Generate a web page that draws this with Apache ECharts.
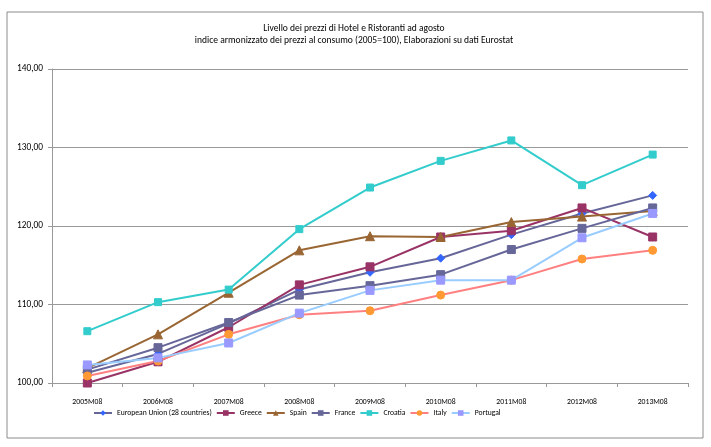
<!DOCTYPE html>
<html>
<head>
<meta charset="utf-8">
<script src="https://cdn.jsdelivr.net/npm/echarts@6/dist/echarts.min.js"></script>
<style>
html,body{margin:0;padding:0;background:#fff;}
#c{width:711px;height:447px;}
</style>
</head>
<body>
<div id="c"></div>
<script>
const categories = ['2005M08','2006M08','2007M08','2008M08','2009M08','2010M08','2011M08','2012M08','2013M08'];
const eu       = [101.3, 103.7, 107.6, 111.9, 114.1, 115.9, 118.9, 121.6, 123.9];
const greece   = [100.0, 102.7, 107.1, 112.5, 114.8, 118.6, 119.4, 122.3, 118.6];
const spain    = [101.9, 106.2, 111.5, 116.9, 118.7, 118.6, 120.5, 121.2, 121.9];
const france   = [101.7, 104.5, 107.7, 111.2, 112.4, 113.8, 117.0, 119.7, 122.3];
const croatia  = [106.6, 110.3, 111.9, 119.6, 124.9, 128.3, 130.9, 125.2, 129.1];
const italy    = [100.9, 102.8, 106.2, 108.7, 109.2, 111.2, 113.1, 115.8, 116.9];
const portugal = [102.3, 103.2, 105.1, 108.9, 111.8, 113.1, 113.1, 118.5, 121.6];
const yTicks = [100, 110, 120, 130, 140];
const titleLine1 = 'Livello dei prezzi di Hotel e Ristoranti ad agosto';
const titleLine2 = 'indice armonizzato dei prezzi al consumo (2005=100), Elaborazioni su dati Eurostat';

const FONT = "Carlito, Calibri, 'Liberation Sans', sans-serif";

// choose font sizes so text widths match the reference
const cv = document.createElement('canvas').getContext('2d');
function fitSize(str, targetW) {
  cv.font = '10px ' + FONT;
  return Math.max(6, Math.min(12, 10 * targetW / cv.measureText(str).width));
}
const titleSize = fitSize(titleLine2, 319);
const legendSize = fitSize('European Union (28 countries)', 95);
const xSize = fitSize('2005M08', 30);
const ySize = fitSize('140,00', 26);

function s(name, data, lineColor, markerColor, symbol, size) {
  return {
    name: name, type: 'line', data: data,
    symbol: symbol, symbolSize: size,
    lineStyle: {color: lineColor, width: 2},
    itemStyle: {color: markerColor, borderColor: markerColor},
    emphasis: {disabled: true},
    animation: false
  };
}

const chart = echarts.init(document.getElementById('c'), null, {renderer: 'canvas'});
chart.setOption({
  animation: false,
  backgroundColor: '#fff',
  title: {
    text: titleLine1 + '\n' + titleLine2,
    left: 349, top: 17, textAlign: 'center',
    textStyle: {fontFamily: FONT, fontSize: titleSize, fontWeight: 'normal', color: '#000', lineHeight: 12.5}
  },
  graphic: [{
    type: 'rect', shape: {x: 7, y: 12, width: 696, height: 426},
    style: {fill: 'none', stroke: '#8c8c8c', lineWidth: 1}, silent: true
  }],
  legend: {
    left: 93, top: 409, padding: 0,
    itemWidth: 18, itemHeight: 7, itemGap: 4,
    textStyle: {fontFamily: FONT, fontSize: legendSize, color: '#000'},
    data: ['European Union (28 countries)','Greece','Spain','France','Croatia','Italy','Portugal']
  },
  grid: {left: 52, right: 23, top: 69, bottom: 64},
  xAxis: {
    type: 'category', data: categories, boundaryGap: true,
    axisLine: {lineStyle: {color: '#999', width: 1}},
    axisTick: {show: true, length: 4, lineStyle: {color: '#999'}},
    axisLabel: {fontFamily: FONT, fontSize: xSize, color: '#000', margin: 15}
  },
  yAxis: {
    type: 'value', min: 100, max: 140, interval: 10,
    axisLine: {show: true, lineStyle: {color: '#999', width: 1}},
    axisTick: {show: true, length: 4, lineStyle: {color: '#999'}},
    splitLine: {lineStyle: {color: '#999', width: 1}},
    axisLabel: {fontFamily: FONT, fontSize: ySize, color: '#000', margin: 9,
      formatter: v => yTicks.includes(v) ? v.toFixed(2).replace('.', ',') : ''}
  },
  series: [
    s('European Union (28 countries)', eu, '#666699', '#3366ff', 'diamond', 8),
    s('Greece', greece, '#993366', '#993366', 'rect', 8),
    s('Spain', spain, '#996633', '#996633', 'triangle', 9),
    s('France', france, '#666699', '#666699', 'rect', 8),
    s('Croatia', croatia, '#33cccc', '#33cccc', 'rect', 7),
    s('Italy', italy, '#ff8080', '#ff9933', 'circle', 8),
    s('Portugal', portugal, '#99ccff', '#9999ff', 'rect', 8)
  ]
});
</script>
</body>
</html>
